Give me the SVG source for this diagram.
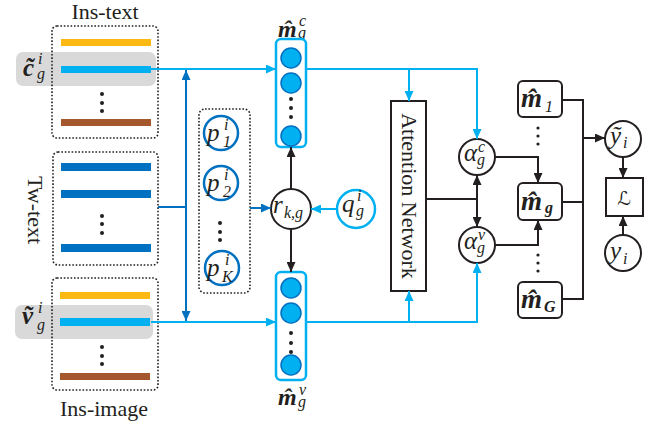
<svg xmlns="http://www.w3.org/2000/svg" width="657" height="424" viewBox="0 0 657 424">
<style>
.ttl{font-family:"Liberation Serif",serif;font-size:22px;fill:#231f20}
.mi{font-family:"Liberation Serif",serif;font-style:italic;font-size:25px;fill:#231f20}
.mb{font-family:"Liberation Serif",serif;font-style:italic;font-weight:bold;font-size:27px;fill:#231f20}
.sm{font-family:"Liberation Serif",serif;font-style:italic;font-size:16px;fill:#231f20}
.b{font-weight:bold}
.dot{fill:none;stroke:#231f20;stroke-width:1.6;stroke-dasharray:1.6 1.8}
.gray{fill:#D9D9D9}
.yel{fill:#FDB913}
.cyb{fill:#00B0F0}
.dbb{fill:#0070C0}
.brn{fill:#A5582E}
.cy{fill:none;stroke:#00B0F0;stroke-width:2}
.db{fill:none;stroke:#0070C0;stroke-width:2}
.bk{fill:none;stroke:#231f20;stroke-width:2}
.node{fill:#fff;stroke:#231f20;stroke-width:2}
.pc{fill:#fff;stroke:#0070C0;stroke-width:2.5}
.qc{fill:#fff;stroke:#00B0F0;stroke-width:2.5}
.mbox{fill:#fff;stroke:#00B0F0;stroke-width:2.5}
.neu{fill:#00B0F0;stroke:#0070C0;stroke-width:1.5}
.dt{fill:#231f20}
</style>
<defs>
<marker id="aC" markerUnits="userSpaceOnUse" markerWidth="10" markerHeight="9" refX="10" refY="4.5" orient="auto"><path d="M0,0 L10,4.5 L0,9 z" fill="#00B0F0"/></marker>
<marker id="aD" markerUnits="userSpaceOnUse" markerWidth="10" markerHeight="9" refX="10" refY="4.5" orient="auto"><path d="M0,0 L10,4.5 L0,9 z" fill="#0070C0"/></marker>
<marker id="aK" markerUnits="userSpaceOnUse" markerWidth="10" markerHeight="9" refX="10" refY="4.5" orient="auto"><path d="M0,0 L10,4.5 L0,9 z" fill="#231f20"/></marker>
</defs>

<g id="ins-text">
<text class="ttl" x="105" y="19" text-anchor="middle">Ins-text</text>
<rect class="gray" x="16" y="52" width="140" height="34" rx="7"/>
<rect class="dot" x="52" y="26" width="106" height="112" rx="5"/>
<rect class="yel" x="61" y="39" width="90" height="7"/>
<rect class="cyb" x="61" y="66" width="90" height="7"/>
<circle class="dt" cx="102" cy="94" r="2"/><circle class="dt" cx="102" cy="103" r="2"/><circle class="dt" cx="102" cy="111" r="2"/>
<rect class="brn" x="61" y="119" width="90" height="7"/>
<text class="mi b" x="23" y="76">c&#x303;</text>
<text class="sm" x="38" y="64">i</text>
<text class="sm" x="37" y="79">g</text>
</g>

<g id="tw-text">
<text class="ttl" transform="translate(35,210) rotate(90)" y="7" text-anchor="middle">Tw-text</text>
<rect class="dot" x="53" y="152" width="105" height="113" rx="5"/>
<rect class="dbb" x="61" y="163" width="90" height="8"/>
<rect class="dbb" x="61" y="190" width="90" height="8"/>
<circle class="dt" cx="102" cy="216" r="2"/><circle class="dt" cx="102" cy="224" r="2"/><circle class="dt" cx="102" cy="233" r="2"/>
<rect class="dbb" x="61" y="244" width="90" height="8"/>
</g>

<g id="ins-image">
<rect class="gray" x="15" y="305" width="138" height="34" rx="7"/>
<rect class="dot" x="52" y="278" width="106" height="112" rx="5"/>
<rect class="yel" x="60" y="292" width="90" height="7"/>
<rect class="cyb" x="60" y="318" width="90" height="8"/>
<circle class="dt" cx="102" cy="347" r="2"/><circle class="dt" cx="102" cy="356" r="2"/><circle class="dt" cx="102" cy="364" r="2"/>
<rect class="brn" x="60" y="373" width="90" height="7"/>
<text class="mi b" x="22" y="324">v&#x303;</text>
<text class="sm" x="38" y="313">i</text>
<text class="sm" x="37" y="330">g</text>
<text class="ttl" x="104" y="416" text-anchor="middle">Ins-image</text>
</g>

<g id="p-set">
<rect class="dot" x="199" y="109" width="51" height="184" rx="6"/>
<circle class="pc" cx="221" cy="133" r="17"/>
<text class="mi" x="207" y="141">p</text><text class="sm" x="224" y="130">i</text><text class="sm" x="223" y="147">1</text>
<circle class="pc" cx="221" cy="183" r="17"/>
<text class="mi" x="207" y="191">p</text><text class="sm" x="224" y="180">i</text><text class="sm" x="223" y="197">2</text>
<circle class="dt" cx="220" cy="223" r="2"/><circle class="dt" cx="220" cy="232" r="2"/><circle class="dt" cx="220" cy="240" r="2"/>
<circle class="pc" cx="222" cy="268" r="17"/>
<text class="mi" x="207" y="276">p</text><text class="sm" x="225" y="265">i</text><text class="sm" x="222" y="282">K</text>
</g>

<g id="r-node">
<circle class="node" cx="291" cy="209" r="20"/>
<text class="mi" x="273" y="213">r</text><text class="sm" x="284" y="218">k,g</text>
</g>
<g id="q-node">
<circle class="qc" cx="356" cy="209" r="19"/>
<text class="mi" x="342" y="212">q</text><text class="sm" x="357" y="201">i</text><text class="sm" x="356" y="216">g</text>
</g>

<g id="m-c">
<text class="mb" x="278" y="37" style="font-size:24px">m&#x302;</text><text class="sm" x="299" y="26">c</text><text class="sm" x="298" y="38">g</text>
<rect class="mbox" x="276" y="39" width="30" height="108" rx="5"/>
<circle class="neu" cx="291" cy="58" r="10"/>
<circle class="neu" cx="291" cy="83" r="10"/>
<circle class="dt" cx="291" cy="99" r="2"/><circle class="dt" cx="291" cy="108" r="2"/><circle class="dt" cx="291" cy="117" r="2"/>
<circle class="neu" cx="291" cy="136" r="10"/>
</g>

<g id="m-v">
<rect class="mbox" x="276" y="272" width="30" height="108" rx="5"/>
<circle class="neu" cx="291" cy="288" r="10"/>
<circle class="neu" cx="291" cy="313" r="10"/>
<circle class="dt" cx="291" cy="333" r="2"/><circle class="dt" cx="291" cy="343" r="2"/><circle class="dt" cx="291" cy="352" r="2"/>
<circle class="neu" cx="291" cy="365" r="10"/>
<text class="mb" x="278" y="405" style="font-size:24px">m&#x302;</text><text class="sm" x="299" y="395">v</text><text class="sm" x="298" y="407">g</text>
</g>

<g id="attention">
<rect class="node" x="391" y="101" width="35" height="190"/>
<text class="ttl" transform="translate(409,196) rotate(90)" y="7" text-anchor="middle">Attention Network</text>
</g>

<g id="alpha-c">
<circle class="node" cx="477" cy="157" r="18"/>
<text class="mi" x="464" y="161">α</text><text class="sm" x="478" y="152">c</text><text class="sm" x="477" y="165">g</text>
</g>
<g id="alpha-v">
<circle class="node" cx="477" cy="245" r="18"/>
<text class="mi" x="464" y="249">α</text><text class="sm" x="478" y="240">v</text><text class="sm" x="477" y="253">g</text>
</g>

<g id="m1">
<rect class="node" x="518" y="81" width="44" height="36" rx="5"/>
<text class="mb" x="521" y="107">m&#x302;</text><text class="sm" x="545" y="112">1</text>
</g>
<circle class="dt" cx="538" cy="128" r="1.6"/><circle class="dt" cx="538" cy="136" r="1.6"/><circle class="dt" cx="538" cy="144" r="1.6"/>
<g id="mg">
<rect class="node" x="518" y="183" width="44" height="37" rx="5"/>
<text class="mb" x="521" y="210">m&#x302;</text><text class="sm b" x="545" y="213">g</text>
</g>
<circle class="dt" cx="538" cy="255" r="1.6"/><circle class="dt" cx="538" cy="263" r="1.6"/><circle class="dt" cx="538" cy="271" r="1.6"/>
<g id="mG">
<rect class="node" x="518" y="282" width="44" height="36" rx="5"/>
<text class="mb" x="521" y="308">m&#x302;</text><text class="sm b" x="544" y="312">G</text>
</g>

<g id="y-tilde">
<circle class="node" cx="623" cy="139" r="18"/>
<text class="mi" x="610" y="144">y&#x303;</text><text class="sm" x="623" y="148">i</text>
</g>
<g id="loss">
<rect class="node" x="606" y="178" width="37" height="38"/>
<text x="624" y="205" text-anchor="middle" style="font-family:'DejaVu Sans',sans-serif;font-size:19px;fill:#231f20">ℒ</text>
</g>
<g id="y-true">
<circle class="node" cx="623" cy="253" r="18"/>
<text class="mi" x="610" y="259">y</text><text class="sm" x="623" y="264">i</text>
</g>

<g id="connectors">
<path class="cy" d="M151,69 H276" marker-end="url(#aC)"/>
<path class="cy" d="M151,322 H276" marker-end="url(#aC)"/>
<path class="db" d="M158,207 H186"/>
<path class="db" d="M186,207 V70" marker-end="url(#aD)"/>
<path class="db" d="M186,207 V321" marker-end="url(#aD)"/>
<path class="db" d="M250,208 H271" marker-end="url(#aD)"/>
<path class="cy" d="M337,209 H311" marker-end="url(#aC)"/>
<path class="bk" d="M291,189 V147" marker-end="url(#aK)"/>
<path class="bk" d="M291,229 V272" marker-end="url(#aK)"/>
<path class="cy" d="M306,69 H477 V139" marker-end="url(#aC)"/>
<path class="cy" d="M409,69 V101" marker-end="url(#aC)"/>
<path class="cy" d="M306,322 H477 V263" marker-end="url(#aC)"/>
<path class="cy" d="M409,322 V291" marker-end="url(#aC)"/>
<path class="bk" d="M426,199 H477"/>
<path class="bk" d="M477,199 V175" marker-end="url(#aK)"/>
<path class="bk" d="M477,199 V227" marker-end="url(#aK)"/>
<path class="bk" d="M495,157 H538 V183" marker-end="url(#aK)"/>
<path class="bk" d="M495,245 H538 V220" marker-end="url(#aK)"/>
<path class="bk" d="M562,100 H583 V299 H562"/>
<path class="bk" d="M562,202 H583"/>
<path class="bk" d="M583,138 H605" marker-end="url(#aK)"/>
<path class="bk" d="M623,157 V178" marker-end="url(#aK)"/>
<path class="bk" d="M623,235 V216" marker-end="url(#aK)"/>
</g>
</svg>
